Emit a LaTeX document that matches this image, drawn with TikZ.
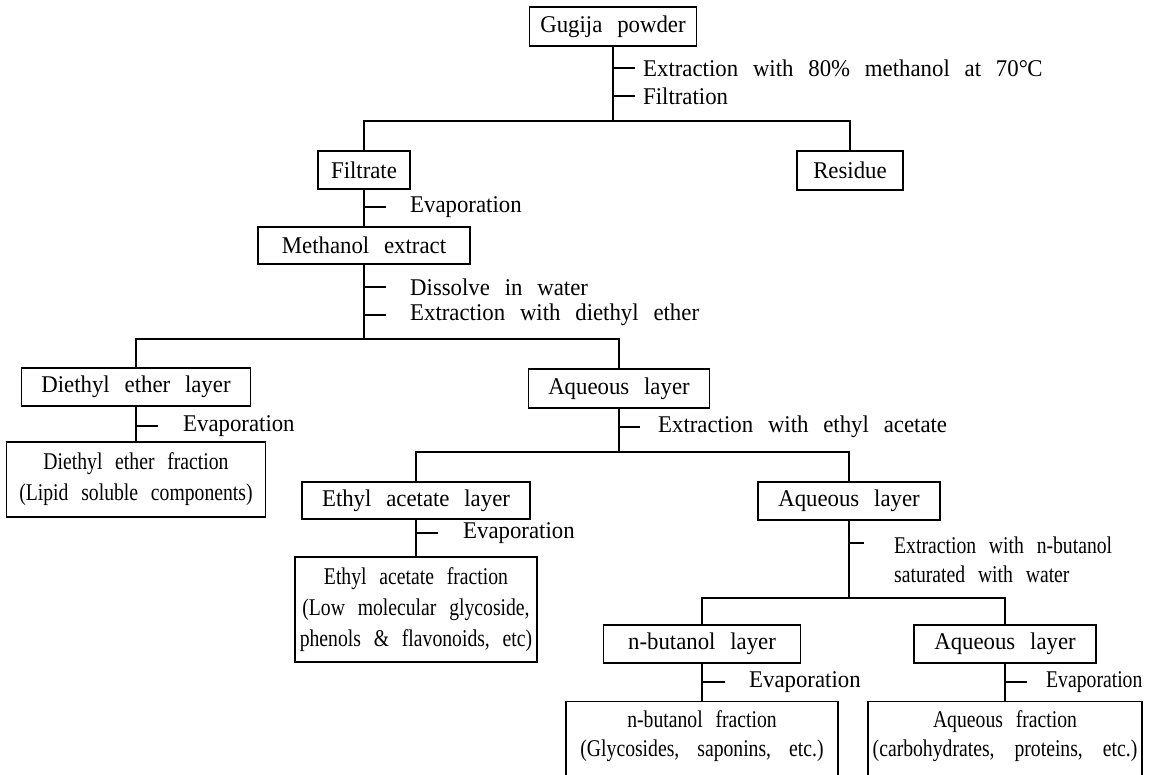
\documentclass[tikz,border=0pt]{standalone}
\usepackage{fontspec}
\setmainfont{Liberation Serif}[FakeStretch=0.95,WordSpace=2.6]
\newfontfamily\cnd{Liberation Serif}[FakeStretch=0.82,WordSpace=2.6]
\tikzset{
  conn/.style={line width=1.4pt},
  box/.style={draw, line width=1.4pt, inner sep=0pt, font=\fontsize{24}{28}\selectfont},
  fracbox/.style={draw, line width=1.4pt, inner sep=0pt, align=center, font=\cnd\fontsize{24}{31}\selectfont},
  lbl/.style={anchor=west, inner sep=0pt, font=\fontsize{24}{28}\selectfont},
  clbl/.style={anchor=west, inner sep=0pt, font=\cnd\fontsize{24}{30}\selectfont},
  ctext/.style={inner sep=0pt, align=center, font=\cnd\fontsize{24}{29}\selectfont}
}
\begin{document}
\begin{tikzpicture}[x=1pt,y=-1pt]
\clip (0,0) rectangle (1155,774);
\fill[white] (0,0) rectangle (1155,774);

% boxes
\node[box, minimum width=167pt, minimum height=39pt] (gug) at (613,26.5) {Gugija powder};
\node[box, minimum width=92pt, minimum height=38pt] (filt) at (364,170) {Filtrate};
\node[box, minimum width=106pt, minimum height=39pt] (res) at (850,170.5) {Residue};
\node[box, minimum width=212pt, minimum height=37pt] (meth) at (364,245.5) {Methanol extract};
\node[box, minimum width=229pt, minimum height=38pt] (dee) at (136,387) {Diethyl ether layer};
\node[box, minimum width=181pt, minimum height=39pt] (aq1) at (619,388.5) {Aqueous layer};
\node[fracbox, minimum width=259pt, minimum height=75pt] (def) at (136,479.5) {Diethyl ether fraction\\(Lipid soluble components)};
\node[box, minimum width=228pt, minimum height=37pt] (eal) at (416,500.5) {Ethyl acetate layer};
\node[box, minimum width=182pt, minimum height=38pt] (aq2) at (849,501) {Aqueous layer};
\node[fracbox, minimum width=242pt, minimum height=105pt] (eaf) at (416,609.5) {Ethyl acetate fraction\\(Low molecular glycoside,\\phenols \& flavonoids, etc)};
\node[box, minimum width=197pt, minimum height=38pt] (nbl) at (702,644) {n-butanol layer};
\node[box, minimum width=182pt, minimum height=38pt] (aq3) at (1005,644) {Aqueous layer};
\node[draw, line width=1.4pt, anchor=north, minimum width=272pt, minimum height=110pt] (nbf) at (702,701) {};
\node[draw, line width=1.4pt, anchor=north, minimum width=274pt, minimum height=110pt] (aqf) at (1005,701) {};
\node[ctext] (nbft) at (702,736) {n-butanol fraction\\(Glycosides,\hspace{18pt}saponins,\hspace{18pt}etc.)};
\node[ctext] (aqft) at (1005,736) {Aqueous fraction\\(carbohydrates,\hspace{20pt}proteins,\hspace{20pt}etc.)};

% junctions
\coordinate (j1) at (613,121);
\coordinate (j2) at (364,339);
\coordinate (j3) at (619,452);
\coordinate (j4) at (849,598);

% tree connectors
\draw[conn] (gug.south) -- (j1);
\draw[conn] (filt.north) |- (j1) -| (res.north);
\draw[conn] (filt.south) -- (meth.north);
\draw[conn] (meth.south) -- (j2);
\draw[conn] (dee.north) |- (j2) -| (aq1.north);
\draw[conn] (dee.south) -- (def.north);
\draw[conn] (aq1.south) -- (j3);
\draw[conn] (eal.north) |- (j3) -| (aq2.north);
\draw[conn] (eal.south) -- (eaf.north);
\draw[conn] (aq2.south) -- (j4);
\draw[conn] (nbl.north) |- (j4) -| (aq3.north);
\draw[conn] (nbl.south) -- (nbf.north);
\draw[conn] (aq3.south) -- (aqf.north);

% ticks
\coordinate (k1a) at (613,68);  \coordinate (k1b) at (635,68);
\coordinate (k2a) at (613,96);  \coordinate (k2b) at (635,96);
\coordinate (k3a) at (364,207); \coordinate (k3b) at (386,207);
\coordinate (k4a) at (364,287); \coordinate (k4b) at (386,287);
\coordinate (k5a) at (364,315); \coordinate (k5b) at (386,315);
\coordinate (k6a) at (136,426); \coordinate (k6b) at (158,426);
\coordinate (k7a) at (619,427); \coordinate (k7b) at (640,427);
\coordinate (k8a) at (416,533); \coordinate (k8b) at (438,533);
\coordinate (k9a) at (849,543); \coordinate (k9b) at (864,543);
\coordinate (k10a) at (702,682); \coordinate (k10b) at (725,682);
\coordinate (k11a) at (1005,682); \coordinate (k11b) at (1027,682);
\foreach \k in {1,...,11} { \draw[conn] (k\k a) -- (k\k b); }

% labels
\node[lbl] (l1) at (643,68) {Extraction with 80\% methanol at 70°\kern-0.5pt C};
\node[lbl] (l2) at (643,96) {Filtration};
\node[lbl] (l3) at (410,207) {Evaporation};
\node[lbl] (l4) at (410,287) {Dissolve in water};
\node[lbl] (l5) at (410,315) {Extraction with diethyl ether};
\node[lbl] (l6) at (183,426) {Evaporation};
\node[lbl] (l7) at (658,427) {Extraction with ethyl acetate};
\node[lbl] (l8) at (463,533) {Evaporation};
\node[clbl] (l9) at (894,545) {Extraction with n-butanol};
\node[clbl] (l9b) at (894,574) {saturated with water};
\node[lbl] (l10) at (749,682) {Evaporation};
\node[clbl] (l11) at (1046,682) {Evaporation};
\end{tikzpicture}
\end{document}
